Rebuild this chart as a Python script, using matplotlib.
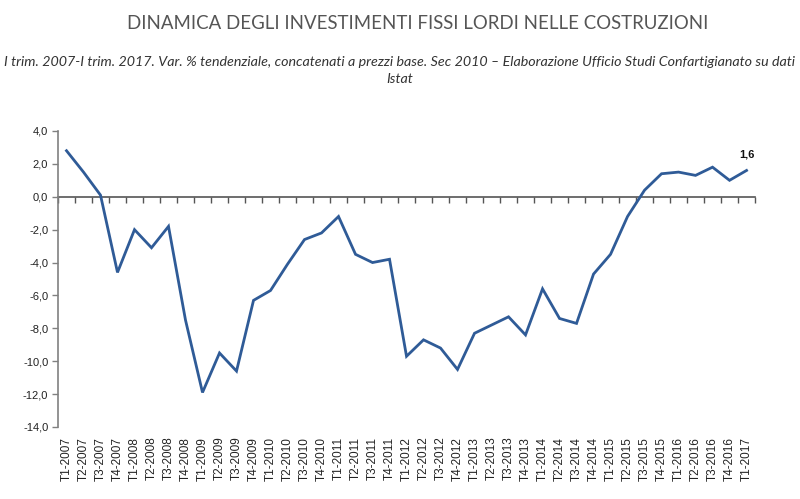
import matplotlib
matplotlib.use("Agg")
import matplotlib.pyplot as plt
import numpy as np

quarters = ["T1-2007","T2-2007","T3-2007","T4-2007",
            "T1-2008","T2-2008","T3-2008","T4-2008",
            "T1-2009","T2-2009","T3-2009","T4-2009",
            "T1-2010","T2-2010","T3-2010","T4-2010",
            "T1-2011","T2-2011","T3-2011","T4-2011",
            "T1-2012","T2-2012","T3-2012","T4-2012",
            "T1-2013","T2-2013","T3-2013","T4-2013",
            "T1-2014","T2-2014","T3-2014","T4-2014",
            "T1-2015","T2-2015","T3-2015","T4-2015",
            "T1-2016","T2-2016","T3-2016","T4-2016",
            "T1-2017"]
values = [2.8, 1.5, 0.1, -4.6,
          -2.0, -3.1, -1.8, -7.5,
          -11.9, -9.5, -10.6, -6.3,
          -5.7, -4.1, -2.6, -2.2,
          -1.2, -3.5, -4.0, -3.8,
          -9.7, -8.7, -9.2, -10.5,
          -8.3, -7.8, -7.3, -8.4,
          -5.6, -7.4, -7.7, -4.7,
          -3.5, -1.2, 0.4, 1.4,
          1.5, 1.3, 1.8, 1.0,
          1.6]
yticks = [4, 2, 0, -2, -4, -6, -8, -10, -12, -14]

title = "DINAMICA DEGLI INVESTIMENTI FISSI LORDI NELLE COSTRUZIONI"
subtitle = ("I trim. 2007-I trim. 2017. Var. % tendenziale, concatenati a prezzi base. "
            "Sec 2010 – Elaborazione Ufficio Studi Confartigianato su dati\nIstat")

fig = plt.figure(figsize=(8.0, 4.99), dpi=100)
ax = fig.add_axes([0.0725, 0.1443, 0.8713, 0.5932])

x = np.arange(len(values))
ax.plot(x, values, color="#2F5B97", lw=2.0, solid_joinstyle="miter")

ax.set_xlim(-0.5, len(values) - 0.5)
ax.set_ylim(-14, 4)
ax.set_yticks(yticks)
ax.set_yticklabels([f"{v:.1f}".replace(".", ",") for v in yticks],
                   fontfamily="Liberation Sans", fontsize=8, color="#222222")
ax.tick_params(axis="y", direction="out", length=4, width=1, color="#808080", pad=3)

ax.set_xticks(x)
ax.set_xticklabels(quarters, rotation=90, fontfamily="Liberation Sans",
                   fontsize=8.5, color="#222222")
ax.tick_params(axis="x", length=0, pad=7)

for s in ["top", "right", "bottom"]:
    ax.spines[s].set_visible(False)
ax.spines["left"].set_color("#808080")
ax.spines["left"].set_linewidth(1.2)

# zero axis with category-boundary ticks
sec = ax.secondary_xaxis(14 / 18)
sec.set_xticks(np.arange(len(values) + 1) - 0.5)
sec.set_xticklabels([])
sec.tick_params(direction="in", length=4, width=1, color="#555555")
for s in sec.spines.values():
    s.set_color("#555555")
    s.set_linewidth(1.2)

ax.annotate(f"{values[-1]:.1f}".replace(".", ","), (x[-1], values[-1]),
            xytext=(0, 8), textcoords="offset points", ha="center", va="bottom",
            fontfamily="Liberation Sans", fontsize=8, fontweight="bold", color="#111111")

fig.text(0.522, 0.952, title, ha="center", va="center", fontfamily="Lato",
         fontweight="normal", fontsize=13.4, color="#555555")
fig.text(0.50, 0.858, subtitle, ha="center", va="center", fontfamily="Lato",
         fontstyle="italic", fontweight="normal", fontsize=10.3, color="#333333",
         linespacing=1.5)

fig.savefig("out.png", dpi=100)
